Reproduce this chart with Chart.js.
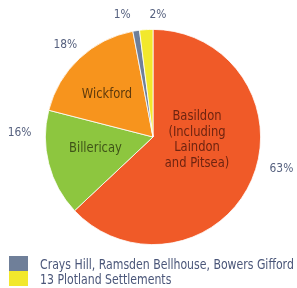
<!DOCTYPE html>
<html>
<head>
<meta charset="utf-8">
<script src="https://cdn.jsdelivr.net/npm/chart.js@4"></script>
<style>
  html, body { margin: 0; padding: 0; background: #ffffff; }
  #wrap { position: relative; width: 297px; height: 288px; overflow: hidden; }
  #c { position: absolute; left: 0; top: 0; }
  #legend { position: absolute; left: 9px; top: 256px; font-family: "DejaVu Sans Condensed", "Liberation Sans Narrow", sans-serif; font-size: 13.5px; color: #4a5679; }
  .row { display: flex; align-items: center; height: 15px; white-space: nowrap; }
  .sw { width: 19px; height: 15px; margin-right: 12px; flex: none; }
  .tx { display: inline-block; transform-origin: 0 50%; }
</style>
</head>
<body>
<div id="wrap">
  <canvas id="c" width="297" height="288"></canvas>
  <div id="legend"></div>
</div>
<script>
// ---- data ----
const categories = ["Basildon (Including Laindon and Pitsea)", "Billericay", "Wickford", "Crays Hill, Ramsden Bellhouse, Bowers Gifford", "13 Plotland Settlements"];
const shares = [63, 16, 18, 1, 2];
const percentLabels = ["63%", "16%", "18%", "1%", "2%"];
const insideLabels = [["Basildon", "(Including", "Laindon", "and Pitsea)"], ["Billericay"], ["Wickford"], [], []];
const legendCategories = [3, 4];
const colors = ["#f05a28", "#8dc63f", "#f7941d", "#6f7f99", "#f2e82c"];
const insideTextColors = ["#6e2410", "#3f5418", "#5e3a0c", "#000", "#000"];

// label placement (angle in degrees clockwise from top, distance as fraction of radius)
const insidePlacement = [[94, 0.41], [259, 0.545], [313, 0.585], [0, 0], [0, 0]];
const outsidePlacement = [[104, 1.23], [271.7, 1.24], [316.6, 1.185], [345.9, 1.175], [2.3, 1.14]];

const FONT = '"DejaVu Sans Condensed", "Liberation Sans Narrow", sans-serif';
const LABEL_SQUEEZE = 0.95;
const LEGEND_SQUEEZE = 0.9;

const labelPlugin = {
  id: 'sliceLabels',
  afterDatasetsDraw(chart) {
    const ctx = chart.ctx;
    const meta = chart.getDatasetMeta(0);
    const put = (t, x, y) => {
      ctx.save();
      ctx.translate(x, y);
      ctx.scale(LABEL_SQUEEZE, 1);
      ctx.fillText(t, 0, 0);
      ctx.restore();
    };
    ctx.save();
    ctx.textAlign = 'center';
    ctx.textBaseline = 'middle';
    meta.data.forEach((arc, i) => {
      const R = arc.outerRadius;
      const [oa, of] = outsidePlacement[i];
      const ora = oa * Math.PI / 180;
      ctx.font = '12.5px ' + FONT;
      ctx.fillStyle = '#56617f';
      put(percentLabels[i], arc.x + Math.sin(ora) * R * of, arc.y - Math.cos(ora) * R * of);
      const lines = insideLabels[i];
      if (lines.length) {
        const [ia, inf] = insidePlacement[i];
        const ira = ia * Math.PI / 180;
        const cx = arc.x + Math.sin(ira) * R * inf;
        const cy = arc.y - Math.cos(ira) * R * inf;
        const lh = 15.7;
        ctx.font = '13.5px ' + FONT;
        ctx.fillStyle = insideTextColors[i];
        lines.forEach((t, k) => put(t, cx, cy + (k - (lines.length - 1) / 2) * lh));
      }
    });
    ctx.restore();
  }
};

new Chart(document.getElementById('c'), {
  type: 'pie',
  data: {
    labels: categories,
    datasets: [{
      data: shares,
      backgroundColor: colors,
      borderColor: '#ffffff',
      borderWidth: 0.8
    }]
  },
  options: {
    responsive: false,
    animation: false,
    layout: { padding: { top: 29, bottom: 43, left: 18, right: 9 } },
    plugins: {
      legend: { display: false },
      tooltip: { enabled: false }
    }
  },
  plugins: [labelPlugin]
});

// legend built from the arrays
const lg = document.getElementById('legend');
legendCategories.forEach(i => {
  const row = document.createElement('div');
  row.className = 'row';
  const sw = document.createElement('div');
  sw.className = 'sw';
  sw.style.background = colors[i];
  const tx = document.createElement('span');
  tx.className = 'tx';
  tx.textContent = categories[i];
  tx.style.transform = 'scaleX(' + LEGEND_SQUEEZE + ')';
  row.appendChild(sw);
  row.appendChild(tx);
  lg.appendChild(row);
});
</script>
</body>
</html>
